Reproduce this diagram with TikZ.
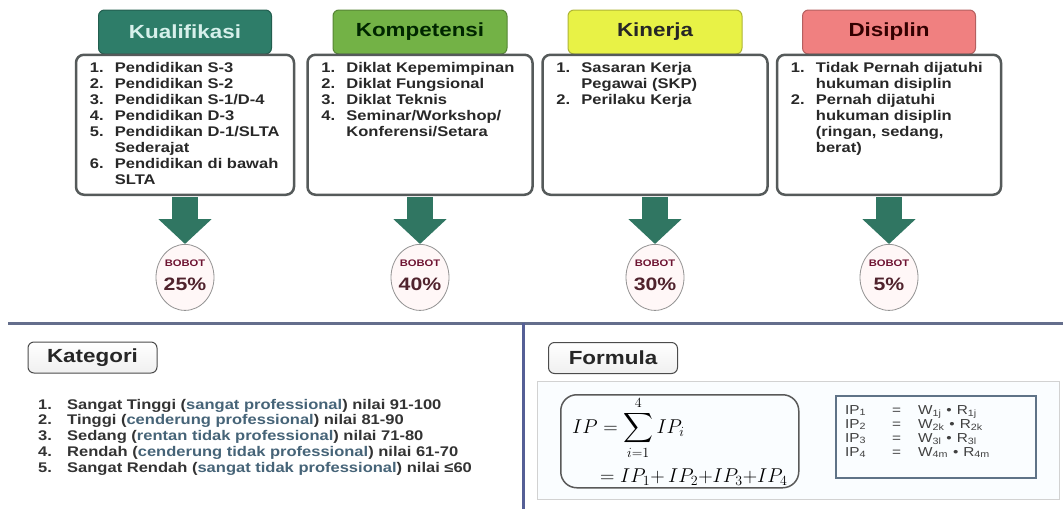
\RequirePackage{fix-cm}
\documentclass[tikz,border=0pt]{standalone}
\usepackage{amsmath}
\usepackage{fontspec}
\setmainfont{Liberation Sans}[FakeStretch=1.18]
\usetikzlibrary{positioning,arrows.meta,shapes.geometric}

\definecolor{kualfill}{RGB}{46,125,105}
\definecolor{kualtext}{RGB}{215,240,235}
\definecolor{kompfill}{RGB}{115,178,70}
\definecolor{kinfill}{RGB}{232,242,70}
\definecolor{disfill}{RGB}{240,128,128}
\definecolor{boxline}{RGB}{85,90,90}
\definecolor{bodytext}{RGB}{40,40,40}
\definecolor{arrowteal}{RGB}{48,118,98}
\definecolor{bobotred}{RGB}{110,20,50}
\definecolor{pctred}{RGB}{80,35,45}
\definecolor{divider}{RGB}{100,110,140}
\definecolor{dividerv}{RGB}{85,95,150}
\definecolor{parenblue}{RGB}{70,100,120}
\definecolor{rectline}{RGB}{95,115,135}

\tikzset{
    tabhead/.style={draw=#1!75!black, fill=#1, line width=1pt, rounded corners=6pt,
        minimum height=44pt, font=\bfseries\fontsize{19}{19}\selectfont},
    catbox/.style={draw=boxline, fill=white, line width=2.5pt, rounded corners=8pt,
        minimum height=140pt},
    itemlist/.style={anchor=north west, inner sep=0pt, text=bodytext,
        font=\bfseries\fontsize{14}{16}\selectfont},
    bobot/.style={ellipse, draw=gray!85, fill=red!3, line width=0.8pt,
        minimum width=58pt, minimum height=66pt, inner sep=0pt},
    bobotlbl/.style={inner sep=0pt, text=bobotred, font=\bfseries\fontsize{9.5}{9.5}\selectfont},
    pctlbl/.style={inner sep=0pt, text=pctred, font=\bfseries\fontsize{18}{18}\selectfont},
    weightarrow/.style={line width=26pt, draw=arrowteal, shorten <=1pt,
        -{Triangle[width=52pt,length=25pt]}},
    labeltab/.style={draw=gray!60!black, line width=1pt, rounded corners=6pt,
        top color=white, bottom color=gray!12, minimum height=31pt, text=black!85,
        font=\bfseries\fontsize{19}{19}\selectfont},
}

\begin{document}
\begin{tikzpicture}[x=1pt, y=-1pt]
    \fill[white] (0,0) rectangle (1063,509);
    \useasboundingbox (0,0) rectangle (1063,509);

    % Headers and boxes
    \node[tabhead=kualfill, text=kualtext, minimum width=173pt] (tabKual) at (185,32) {Kualifikasi};
    \node[catbox, minimum width=218pt, below=-1pt of tabKual] (boxKual) {};
    \node[tabhead=kompfill, text=black!85!green, minimum width=174pt] (tabKomp) at (420,32) {Kompetensi};
    \node[catbox, minimum width=225pt, below=-1pt of tabKomp] (boxKomp) {};
    \node[tabhead=kinfill, text=black!85, minimum width=174pt] (tabKin) at (655,32) {Kinerja};
    \node[catbox, minimum width=225pt, below=-1pt of tabKin] (boxKin) {};
    \node[tabhead=disfill, text=black!80!red, minimum width=173pt] (tabDis) at (889,32) {Disiplin};
    \node[catbox, minimum width=224pt, below=-1pt of tabDis] (boxDis) {};

    % Lists
    \node[itemlist, below right=8pt and 15pt of boxKual.north west] (listKual) {%
        \begin{tabular}{@{}p{25pt}@{}l@{}}
        1. & Pendidikan S-3\\
        2. & Pendidikan S-2\\
        3. & Pendidikan S-1/D-4\\
        4. & Pendidikan D-3\\
        5. & Pendidikan D-1/SLTA\\
           & Sederajat\\
        6. & Pendidikan di bawah\\
           & SLTA
        \end{tabular}};
    \node[itemlist, below right=8pt and 15pt of boxKomp.north west] (listKomp) {%
        \begin{tabular}{@{}p{25pt}@{}l@{}}
        1. & Diklat Kepemimpinan\\
        2. & Diklat Fungsional\\
        3. & Diklat Teknis\\
        4. & Seminar/Workshop/\\
           & Konferensi/Setara
        \end{tabular}};
    \node[itemlist, below right=8pt and 15pt of boxKin.north west] (listKin) {%
        \begin{tabular}{@{}p{25pt}@{}l@{}}
        1. & Sasaran Kerja\\
           & Pegawai (SKP)\\
        2. & Perilaku Kerja
        \end{tabular}};
    \node[itemlist, below right=8pt and 15pt of boxDis.north west] (listDis) {%
        \begin{tabular}{@{}p{25pt}@{}l@{}}
        1. & Tidak Pernah dijatuhi\\
           & hukuman disiplin\\
        2. & Pernah dijatuhi\\
           & hukuman disiplin\\
           & (ringan, sedang,\\
           & berat)
        \end{tabular}};

    % Weights
    \node[bobot, below=48pt of boxKual] (bobotKual) {};
    \node[bobot, below=48pt of boxKomp] (bobotKomp) {};
    \node[bobot, below=48pt of boxKin] (bobotKin) {};
    \node[bobot, below=48pt of boxDis] (bobotDis) {};
    \node[bobotlbl, yshift=14pt] (lblKual) at (bobotKual.center) {BOBOT};
    \node[pctlbl, yshift=-7pt] (pctKual) at (bobotKual.center) {25\%};
    \node[bobotlbl, yshift=14pt] (lblKomp) at (bobotKomp.center) {BOBOT};
    \node[pctlbl, yshift=-7pt] (pctKomp) at (bobotKomp.center) {40\%};
    \node[bobotlbl, yshift=14pt] (lblKin) at (bobotKin.center) {BOBOT};
    \node[pctlbl, yshift=-7pt] (pctKin) at (bobotKin.center) {30\%};
    \node[bobotlbl, yshift=14pt] (lblDis) at (bobotDis.center) {BOBOT};
    \node[pctlbl, yshift=-7pt] (pctDis) at (bobotDis.center) {5\%};

    \draw[weightarrow] (boxKual) -- (bobotKual);
    \draw[weightarrow] (boxKomp) -- (bobotKomp);
    \draw[weightarrow] (boxKin) -- (bobotKin);
    \draw[weightarrow] (boxDis) -- (bobotDis);

    % Dividers
    \draw[divider, line width=3pt] (8,323) -- (1063,323);
    \draw[dividerv, line width=3pt] (523,323) -- (523,509);

    % Kategori
    \node[labeltab, minimum width=129pt] (tabKategori) at (92.5,357.5) {Kategori};
    \node[itemlist, text=black!80, font=\bfseries\fontsize{14}{15.75}\selectfont] (listKategori) at (38,398) {%
        \begin{tabular}{@{}p{29pt}@{}l@{}}
        1. & Sangat Tinggi ({\color{parenblue}sangat professional}) nilai 91-100\\
        2. & Tinggi ({\color{parenblue}cenderung professional}) nilai 81-90\\
        3. & Sedang ({\color{parenblue}rentan tidak professional}) nilai 71-80\\
        4. & Rendah ({\color{parenblue}cenderung tidak professional}) nilai 61-70\\
        5. & Sangat Rendah ({\color{parenblue}sangat tidak professional}) nilai ≤60
        \end{tabular}};

    % Formula
    \node[labeltab, minimum width=129pt] (tabFormula) at (613,358) {Formula};
    \node[draw=gray!35, fill=cyan!2, anchor=north west, minimum width=522pt, minimum height=118pt] (panel) at (537,381) {};
    \node[draw=gray!70!black, line width=1.5pt, rounded corners=16pt, anchor=north west,
        minimum width=238pt, minimum height=93pt] (sumbox) at (560,394) {};
    \node[draw=rectline, line width=2pt, anchor=north west, minimum width=200pt, minimum height=82pt] (iprect) at (835,395) {};
    \node[anchor=west, inner sep=0pt, font=\fontsize{20}{24}\selectfont] (sumtop) at (572,428) {$\displaystyle IP = \sum_{i=1}^{4} IP_i$};
    \node[anchor=west, inner sep=0pt, font=\fontsize{20}{24}\selectfont] (sumbottom) at (600,477) {$= IP_1{+}\,IP_2{+}IP_3{+}IP_4$};
    \node[anchor=north west, inner sep=0pt, text=black!75, font=\fontsize{13}{14}\selectfont] (iplist) at (845,404) {%
        \begin{tabular}{@{}l@{\hspace{26pt}}l@{\hspace{17pt}}l@{}}
        IP\textsubscript{1} & = & W\textsubscript{1j}\hspace{5pt}•\hspace{5pt}R\textsubscript{1j}\\
        IP\textsubscript{2} & = & W\textsubscript{2k}\hspace{5pt}•\hspace{5pt}R\textsubscript{2k}\\
        IP\textsubscript{3} & = & W\textsubscript{3l}\hspace{5pt}•\hspace{5pt}R\textsubscript{3l}\\
        IP\textsubscript{4} & = & W\textsubscript{4m}\hspace{5pt}•\hspace{5pt}R\textsubscript{4m}
        \end{tabular}};
\end{tikzpicture}
\end{document}
